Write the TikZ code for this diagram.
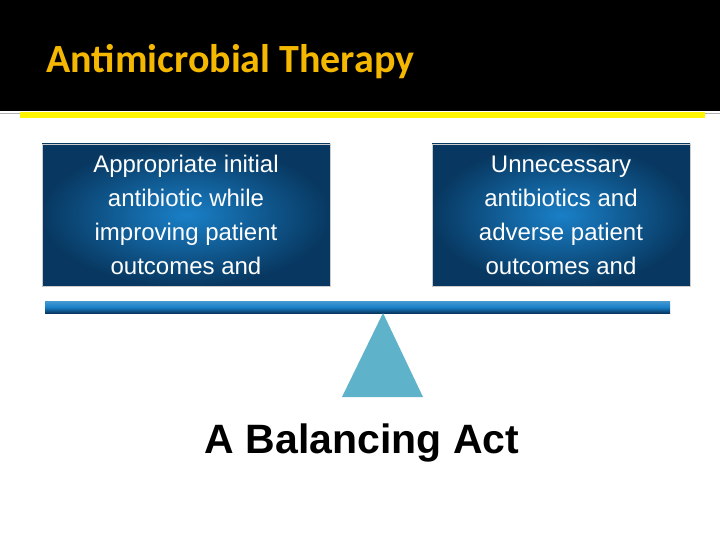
\documentclass[tikz,border=0pt]{standalone}
\usepackage{fontspec}
\setmainfont{Liberation Sans}
\newfontfamily\titlefont{Carlito}
\usepackage{tikz}
\usetikzlibrary{positioning}
\definecolor{ttyy}{rgb}{0.96,0.72,0.0}
\definecolor{yyline}{rgb}{1.,0.96,0.0}
\definecolor{bbin}{rgb}{0.1,0.5,0.78}
\definecolor{bbout}{rgb}{0.03,0.22,0.38}
\definecolor{tribl}{rgb}{0.37,0.70,0.79}
\tikzset{sidebox/.style={rectangle,inner color=bbin,outer color=bbout,draw=gray!40,line width=0.6pt,
    minimum height=142pt,text=white,align=center,font=\fontsize{24}{34}\selectfont}}
\begin{document}
\begin{tikzpicture}[line cap=round,line join=round,x=1pt,y=-1pt]
            \useasboundingbox (0,0) rectangle (720,540);
            \fill[black] (0,0) rectangle (720,111);
            \draw[gray!60,line width=0.6pt] (0,113.5)-- (720,113.5);
            \fill[yyline] (20,112) rectangle (705,118);
            \node (title) [anchor=west,text=ttyy,font=\titlefont\bfseries\fontsize{40}{48}\selectfont] at (43,62) {Antimicrobial Therapy};
            \node (left) [sidebox,minimum width=288pt] at (186,215) {Appropriate initial\\antibiotic while\\improving patient\\outcomes and};
            \node (right) [sidebox,minimum width=258pt] at (561,215) {Unnecessary\\antibiotics and\\adverse patient\\outcomes and};
            \shade[top color=bbin!80!white,bottom color=bbout,middle color=bbin] (45,301) rectangle (670,313);
            \fill[tribl] (383,313)-- (423,397)-- (342,397)-- cycle;
            \node (act) [font=\bfseries\fontsize{41}{48}\selectfont] at (362,443) {A Balancing Act};
            \end{tikzpicture}
\end{document}
